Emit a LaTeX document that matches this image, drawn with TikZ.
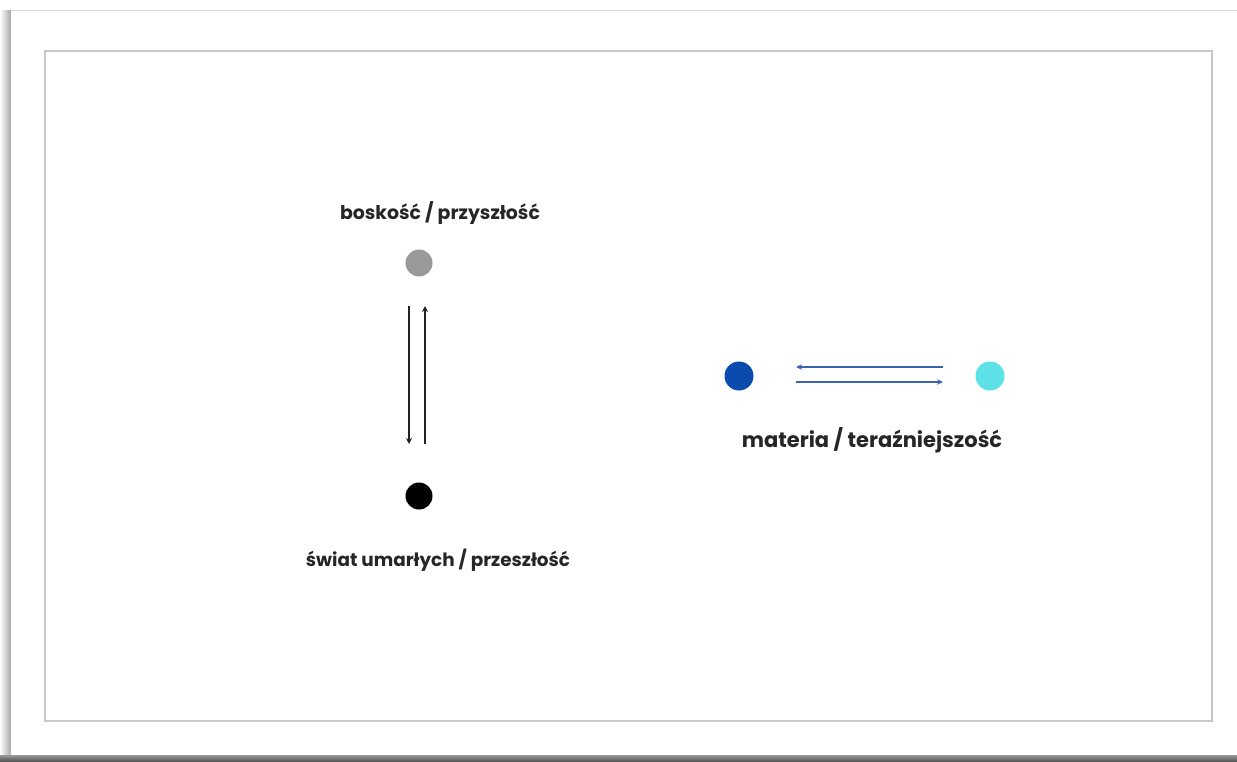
\documentclass[tikz,border=0pt]{standalone}
\usepackage{fontspec}
\setmainfont{Poppins}
\usetikzlibrary{arrows.meta}
\definecolor{framegray}{HTML}{C8C8C8}
\definecolor{dotgray}{HTML}{999999}
\definecolor{dotblue}{HTML}{0B4BAE}
\definecolor{dotcyan}{HTML}{5CE1E6}
\definecolor{arrowblue}{HTML}{3A62AE}
\definecolor{arrowdark}{HTML}{222222}
\tikzset{
  dot/.style={circle, inner sep=0pt, minimum size=27pt},
  caption/.style={font=\bfseries\fontsize{18.9}{22}\selectfont, text=black!85, inner sep=0pt},
  vlink/.style={draw=arrowdark, line width=1.5pt, -{Stealth[length=6pt,width=6pt]}},
  hlink/.style={draw=arrowblue, line width=1.4pt, -{Stealth[length=6pt,width=5.5pt]}},
}
\begin{document}
\begin{tikzpicture}[x=1pt,y=-1pt]
  \useasboundingbox (0,0) rectangle (1237,762);
  \fill[white] (0,0) rectangle (1237,762);
  % page shadow, left and bottom
  \shade[left color=white, right color=black!35] (0,11) rectangle (11,755);
  \shade[top color=black!40, bottom color=black!70] (0,755) rectangle (1237,762);
  % page sheet
  \fill[white] (11,11) rectangle (1237,755);
  \draw[black!15, line width=1pt] (11,11) -- (1237,11);
  % inner frame
  \draw[framegray, line width=1.5pt] (45,51) rectangle (1212,721);

  % vertical pair
  \node[dot, fill=dotgray] (god) at (419,263) {};
  \node[dot, fill=black] (dead) at (419,496) {};
  \node[caption] (godlabel) at (440,213) {boskość / przyszłość};
  \node[caption, font=\bfseries\fontsize{18.4}{22}\selectfont] (deadlabel) at (438,560) {świat umarłych / przeszłość};
  \coordinate (dtop) at (409,306);
  \coordinate (dbot) at (409,444);
  \coordinate (utop) at (425,306);
  \coordinate (ubot) at (425,444);
  \draw[vlink] (dtop) -- (dbot);
  \draw[vlink] (ubot) -- (utop);

  % horizontal pair
  \node[dot, fill=dotblue, minimum size=29pt] (matter) at (739,376) {};
  \node[dot, fill=dotcyan, minimum size=29pt] (present) at (990,376) {};
  \node[caption, font=\bfseries\fontsize{21}{25}\selectfont] (matterlabel) at (872,440) {materia / teraźniejszość};
  \coordinate (lr) at (943,367);
  \coordinate (ll) at (796,367);
  \coordinate (rl) at (796,382);
  \coordinate (rr) at (943,382);
  \draw[hlink] (lr) -- (ll);
  \draw[hlink] (rl) -- (rr);
\end{tikzpicture}
\end{document}
